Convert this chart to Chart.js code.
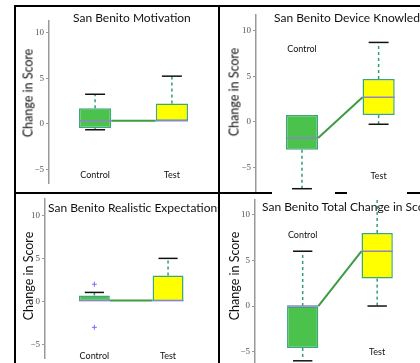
<!DOCTYPE html>
<html>
<head>
<meta charset="utf-8">
<script src="https://cdn.jsdelivr.net/npm/chart.js@4.4.0/dist/chart.umd.min.js"></script>
<style>
  html, body { margin: 0; padding: 0; background: #fff; }
  body { width: 420px; height: 363px; position: relative; overflow: hidden; }
  .panel { position: absolute; overflow: hidden; }
  .panel canvas { position: absolute; left: 0; top: 0; }
  .title { position: absolute; white-space: nowrap; font-family: Lato, "Liberation Sans", sans-serif; font-size: 12px; line-height: 12px; color: #111; }
  .ylab { position: absolute; white-space: nowrap; font-family: Lato, "Liberation Sans", sans-serif; font-size: 12.5px; line-height: 13px; color: #111; transform: translate(-50%, -50%) rotate(-90deg); }
  .rule { position: absolute; background: #000; }
</style>
</head>
<body>
<div class="panel" style="left:16px;top:7px;width:202px;height:185px">
  <canvas id="motivation" width="202" height="185"></canvas>
  <div class="title" style="left:57px;top:5px">San Benito Motivation</div>
  <div class="ylab" style="left:12px;top:86px">Change in Score</div>
</div>
<div class="panel" style="left:220px;top:7px;width:200px;height:185px">
  <canvas id="knowledge" width="200" height="185"></canvas>
  <div class="title" style="left:54px;top:5px">San Benito Device Knowledge</div>
  <div class="ylab" style="left:14px;top:85px">Change in Score</div>
</div>
<div class="panel" style="left:16px;top:194px;width:202px;height:169px">
  <canvas id="expectations" width="202" height="169"></canvas>
  <div class="title" style="left:32px;top:8px">San Benito Realistic Expectations</div>
  <div class="ylab" style="left:12px;top:82px">Change in Score</div>
</div>
<div class="panel" style="left:220px;top:194px;width:200px;height:169px">
  <canvas id="total" width="200" height="169"></canvas>
  <div class="title" style="left:42px;top:7px">San Benito Total Change in Score</div>
  <div class="ylab" style="left:14px;top:82px">Change in Score</div>
</div>

<div class="rule" style="left:14px;top:5px;width:406px;height:2px"></div>
<div class="rule" style="left:14px;top:5px;width:2px;height:358px"></div>
<div class="rule" style="left:218px;top:5px;width:2px;height:358px"></div>
<div class="rule" style="left:14px;top:192px;width:258px;height:2px"></div>
<div class="rule" style="left:335px;top:192px;width:12px;height:2px"></div>
<div class="rule" style="left:407px;top:192px;width:13px;height:2px"></div>

<script>
const categories = ['Control', 'Test'];
const categoryPos = [1, 2];
const yTicks = [-5, 0, 5, 10];

// box summaries: [min, q1, median, q3, max]
const motivationControl = [-0.65, -0.45, 0.35, 1.72, 3.25];
const motivationTest = [0.33, 0.33, 0.33, 2.23, 5.24];
const knowledgeControl = [-7.3, -3.05, -1.75, 0.75, 0.75];
const knowledgeTest = [-0.25, 0.75, 2.7, 4.7, 8.7];
const expectationsControl = [0, 0, 0.1, 0.7, 1.05];
const expectationsTest = [0, 0, 0.1, 3, 5];
const expectationsOutliers = [2, -3]; // control group fliers
const totalControl = [-6, -4.6, 0, 0, 6];
const totalTest = [0, 3, 6, 8, 12];

// where the Control / Test annotations sit (y, data units)
const motivationLabelY = [-5.6, -5.6];
const knowledgeLabelY = [8, -5.9];
const expectationsLabelY = [-6.3, -6.3];
const totalLabelY = [7.8, -5];

const BOX_W = 0.42;
const CAP_W = 0.26;
const FILLS = ['#4bc24b', '#ffff00'];
const EDGE = '#3aa878';
const WHISKER = '#2e9e72';
const MEDIAN = '#8c86c4';
const CAP = '#111';
const LINK = '#3d9b45';
const OUTLIER = '#7070ff';

function boxParts(boxes, labelY) {
    return {
        id: 'boxParts',
        afterDatasetsDraw(chart) {
            const { ctx, chartArea: a, scales: { x, y } } = chart;
            const seg = (x1, y1, x2, y2) => {
                ctx.beginPath();
                ctx.moveTo(x1, y1);
                ctx.lineTo(x2, y2);
                ctx.stroke();
            };
            ctx.save();
            ctx.beginPath();
            ctx.rect(a.left, a.top, a.width, a.height);
            ctx.clip();
            boxes.forEach((b, i) => {
                const c = categoryPos[i];
                const cx = x.getPixelForValue(c);
                const bl = x.getPixelForValue(c - BOX_W / 2);
                const br = x.getPixelForValue(c + BOX_W / 2);
                const cl = x.getPixelForValue(c - CAP_W / 2);
                const cr = x.getPixelForValue(c + CAP_W / 2);
                const [mn, q1, md, q3, mx] = b.map((v) => y.getPixelForValue(v));
                ctx.lineWidth = 1.5;
                ctx.strokeStyle = WHISKER;
                ctx.setLineDash([3, 3]);
                if (b[4] > b[3]) seg(cx, q3, cx, mx);
                if (b[0] < b[1]) seg(cx, q1, cx, mn);
                ctx.setLineDash([]);
                ctx.strokeStyle = CAP;
                if (b[4] > b[3]) seg(cl, mx, cr, mx);
                if (b[0] < b[1]) seg(cl, mn, cr, mn);
                ctx.strokeStyle = MEDIAN;
                seg(bl, md, br, md);
            });
            ctx.restore();

            ctx.save();
            ctx.font = '9px Lato, "Liberation Sans", sans-serif';
            ctx.fillStyle = '#111';
            ctx.textAlign = 'center';
            ctx.textBaseline = 'middle';
            categories.forEach((t, i) => {
                ctx.fillText(t, x.getPixelForValue(categoryPos[i]), y.getPixelForValue(labelY[i]));
            });
            ctx.restore();
        }
    };
}

function drawPanel(id, boxes, labelY, outliers, g) {
    const half = BOX_W / 2;
    const datasets = [{
            type: 'bar',
            data: boxes.map((b, i) => ({ x: categoryPos[i], y: [b[1], b[3]] })),
            backgroundColor: FILLS,
            borderColor: EDGE,
            borderWidth: 1.5,
            borderSkipped: false,
            categoryPercentage: 1,
            barPercentage: BOX_W,
            order: 1,
        },
        {
            type: 'line',
            data: [
                { x: categoryPos[0] + half, y: boxes[0][2] },
                { x: categoryPos[1] - half, y: boxes[1][2] },
            ],
            borderColor: LINK,
            borderWidth: 2,
            pointRadius: 0,
            order: 2,
        },
    ];
    if (outliers) {
        datasets.push({
            type: 'line',
            data: outliers.map((v) => ({ x: categoryPos[0], y: v })),
            showLine: false,
            pointStyle: 'cross',
            pointRadius: 2.5,
            borderColor: OUTLIER,
            borderWidth: 1,
            order: 0,
        });
    }

    new Chart(document.getElementById(id), {
        type: 'bar',
        data: { datasets: datasets },
        options: {
            responsive: false,
            animation: false,
            events: [],
            layout: { padding: { left: 0, right: 0, top: g.top, bottom: g.bottom } },
            plugins: { legend: { display: false }, tooltip: { enabled: false } },
            scales: {
                x: {
                    type: 'linear',
                    display: false,
                    offset: false,
                    min: g.xMin,
                    max: g.xMax,
                    afterBuildTicks: (s) => { s.ticks = categoryPos.map((v) => ({ value: v })); },
                },
                y: {
                    type: 'linear',
                    min: g.yMin,
                    max: g.yMax,
                    afterBuildTicks: (s) => { s.ticks = yTicks.map((v) => ({ value: v })); },
                    afterFit: (s) => {
                        s.width = g.axis;
                        s.paddingTop = 0;
                        s.paddingBottom = 0;
                    },
                    ticks: {
                        color: '#555',
                        padding: 2,
                        font: { family: '"Liberation Serif", serif', size: 9 },
                        callback: (v) => (v < 0 ? '\u2212' + Math.abs(v) : String(v)),
                    },
                    grid: { drawOnChartArea: false, tickLength: 3, color: '#999', lineWidth: 1 },
                    border: { display: true, color: '#999', width: 1.5 },
                },
            },
        },
        plugins: [boxParts(boxes, labelY)],
    });
}

drawPanel('motivation', [motivationControl, motivationTest], motivationLabelY, null,
    { axis: 33, top: 14, bottom: 9, xMin: 0.4, xMax: 2.6, yMin: -6.5, yMax: 11.3 });
drawPanel('knowledge', [knowledgeControl, knowledgeTest], knowledgeLabelY, null,
    { axis: 36, top: 8, bottom: 1, xMin: 0.4, xMax: 2.54, yMin: -7.55, yMax: 11.7 });
drawPanel('expectations', [expectationsControl, expectationsTest], expectationsLabelY, expectationsOutliers,
    { axis: 29, top: 3, bottom: 0, xMin: 0.33, xMax: 2.61, yMin: -6.56, yMax: 11.89 });
drawPanel('total', [totalControl, totalTest], totalLabelY, null,
    { axis: 35, top: 6, bottom: 0, xMin: 0.36, xMax: 2.575, yMin: -6.24, yMax: 11.61 });
</script>
</body>
</html>
